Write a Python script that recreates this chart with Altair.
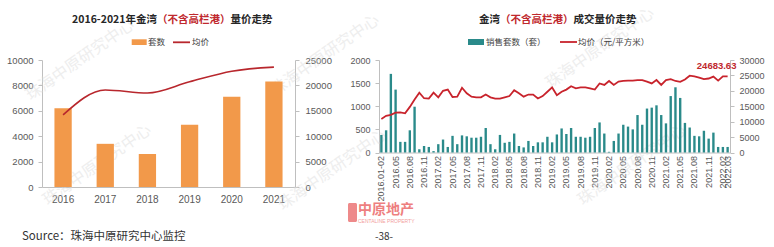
import altair as alt
import pandas as pd

# ---------------- Left panel: yearly ----------------
years = ["2016", "2017", "2018", "2019", "2020", "2021"]
units_year = [6200, 3400, 2600, 4900, 7100, 8300]
price_year = [14200, 19100, 18500, 20700, 22800, 23600]

# ---------------- Right panel: monthly ----------------
months = ["2016.01-02"] + [
    f"{y}.{m:02d}"
    for y in range(2016, 2023)
    for m in range(1, 13)
    if (2016, 3) <= (y, m) <= (2022, 3)
]
units_month = [
    380, 480, 1700, 1360, 230, 230, 480, 990, 70, 140,
    120, 30, 180, 280, 120, 360, 180, 370, 350, 320,
    320, 340, 530, 180, 70, 380, 210, 230, 410, 140,
    110, 250, 140, 220, 220, 340, 220, 390, 520, 400,
    530, 340, 340, 320, 340, 530, 650, 410, 15, 250,
    410, 600, 560, 500, 810, 600, 950, 970, 1020, 810,
    630, 1220, 1410, 1180, 640, 540, 360, 350, 470, 300,
    430, 120, 120, 120,
]
price_month = [
    10900, 11900, 12200, 12900, 13000, 12700, 14800, 17200, 19400, 17600,
    17500, 19400, 17900, 20000, 20400, 18000, 18100, 21000, 19200, 18100,
    17900, 17900, 18800, 17900, 17500, 17500, 17900, 18300, 20200, 19200,
    18100, 18800, 18800, 17500, 18300, 19700, 21100, 18600, 19700, 20400,
    21500, 20800, 21100, 21100, 20800, 20400, 22400, 21900, 23200, 21900,
    23000, 23200, 23300, 23300, 23500, 23500, 23000, 22400, 23500, 21900,
    23500, 23800, 23200, 22900, 23700, 24900, 24700, 24300, 23800, 24000,
    24600, 23300, 24700, 24683.63,
]
month_ticks = months[0::3] + [months[-1]]

left_df = pd.DataFrame({"year": years, "units": units_year, "price": price_year})
right_df = pd.DataFrame({
    "month": months, "units": units_month, "price": price_month,
    "idx": list(range(len(months))),
    "lab": [f"{p:.2f}" for p in price_month],
})

W, H = 688, 127
RH = 92.5
LBL = "Liberation Sans"
CJK = "Noto Sans CJK SC"
GRAY = "#BFBFBF"
LABC = "#595959"
RED = "#C0282D"
DARK = "#262626"

def ax(**kw):
    base = dict(title=None, grid=False, domainColor=GRAY, tickColor=GRAY,
                labelColor=LABC, labelFont=LBL)
    base.update(kw)
    return alt.Axis(**base)

lx = alt.Scale(type="band", domain=years, range=[0, 253], paddingInner=0.59, paddingOuter=0.295)
rx = alt.Scale(type="band", domain=months, range=[337, W], paddingInner=0.5, paddingOuter=0.25)

left_bars = alt.Chart(left_df).mark_bar(color="#F2994A").encode(
    x=alt.X("year:N", scale=lx, sort=None,
            axis=ax(orient="bottom", labelAngle=0, ticks=False, labelFontSize=10, labelPadding=7)),
    y=alt.Y("units:Q", scale=alt.Scale(domain=[0, 10000], range=[H, 0], nice=False),
            axis=ax(orient="left", values=list(range(0, 10001, 2000)), format="d",
                    tickSize=4, labelPadding=5, labelFontSize=9.5)),
)
left_line = alt.Chart(left_df).mark_line(color="#B8272D", strokeWidth=1.6, interpolate="monotone").encode(
    x=alt.X("year:N", scale=lx, sort=None, axis=None),
    y=alt.Y("price:Q", scale=alt.Scale(domain=[0, 25000], range=[H, 0], nice=False),
            axis=ax(orient="right", offset=-435, values=list(range(0, 25001, 5000)), format="d",
                    tickSize=4, labelPadding=6, labelFontSize=9.5)),
)

right_bars = alt.Chart(right_df).mark_bar(color="#2A8A8A").encode(
    x=alt.X("month:N", scale=rx, sort=None,
            axis=ax(orient="bottom", offset=-(H - RH), values=month_ticks, labelAngle=-90,
                    ticks=False, labelFontSize=9, labelPadding=3)),
    y=alt.Y("units:Q", scale=alt.Scale(domain=[0, 2000], range=[RH, 0], nice=False),
            axis=ax(orient="left", offset=-337, values=list(range(0, 2001, 500)), format="d",
                    tickSize=4, labelPadding=5, labelFontSize=9)),
)
right_line = alt.Chart(right_df).mark_line(color="#C8232C", strokeWidth=1.8).encode(
    x=alt.X("month:N", scale=rx, sort=None, axis=None),
    y=alt.Y("price:Q", scale=alt.Scale(domain=[0, 30000], range=[RH, 0], nice=False),
            axis=ax(orient="right", values=list(range(0, 30001, 5000)), format="d",
                    tickSize=4, labelPadding=5, labelFontSize=9)),
)
right_label = alt.Chart(right_df).transform_filter(alt.datum.idx == len(months) - 1).mark_text(
    font=LBL, fontSize=9.5, fontWeight="bold", color=RED, dx=-11, dy=-10.5
).encode(
    x=alt.X("month:N", scale=rx, sort=None, axis=None),
    y=alt.Y("price:Q", scale=alt.Scale(domain=[0, 30000], range=[RH, 0], nice=False), axis=None),
    text="lab:N",
)

def text_layer(rows, **kw):
    df = pd.DataFrame(rows, columns=["t", "x", "y", "c"])
    return alt.Chart(df).mark_text(baseline="middle", **kw).encode(
        x=alt.X("x:Q", scale=None, axis=None),
        y=alt.Y("y:Q", scale=None, axis=None),
        text="t:N",
        color=alt.Color("c:N", scale=None, legend=None),
    )

wm_text = "珠海中原研究中心"
WM = "#DADADA"
watermarks = text_layer(
    [(wm_text, 38, 0, WM), (wm_text, 55, 105, WM),
     (wm_text, 283, -5, WM), (wm_text, 290, 110, WM),
     (wm_text, 558, -12, WM), (wm_text, 590, 105, WM)],
    align="center", font=CJK, fontSize=16, angle=325, opacity=0.45,
)

titles_r = text_layer(
    [("2016-2021年金湾", 115, -40, DARK), ("金湾", 458, -40, DARK)],
    align="right", font=CJK, fontSize=10.5, fontWeight="bold",
)
titles_l = text_layer(
    [("（不含高栏港）", 115, -40, RED), ("量价走势", 188.5, -40, DARK),
     ("（不含高栏港）", 458, -40, RED), ("成交量价走势", 531.5, -40, DARK)],
    align="left", font=CJK, fontSize=10.5, fontWeight="bold",
)
legend_text = text_layer(
    [("套数", 106, -18, "#404040"), ("均价", 150, -18, "#404040"),
     ("销售套数（套）", 444, -18, "#404040"), ("均价（元/平方米）", 536, -18, "#404040")],
    align="left", font=CJK, fontSize=8.5,
)
legend_rects = alt.Chart(pd.DataFrame({
    "x": [89.7, 426], "x2": [104.7, 442], "y": [-20.7, -21], "y2": [-15, -15],
    "c": ["#F2994A", "#2A8A8A"],
})).mark_rect().encode(
    x=alt.X("x:Q", scale=None, axis=None), x2="x2:Q",
    y=alt.Y("y:Q", scale=None, axis=None), y2="y2:Q",
    color=alt.Color("c:N", scale=None, legend=None),
)
legend_lines = alt.Chart(pd.DataFrame({
    "x": [131, 518], "x2": [148, 535], "y": [-17.7, -18], "c": ["#B8272D", "#C8232C"],
})).mark_rule(strokeWidth=1.8).encode(
    x=alt.X("x:Q", scale=None, axis=None), x2="x2:Q",
    y=alt.Y("y:Q", scale=None, axis=None),
    color=alt.Color("c:N", scale=None, legend=None),
)
footer = text_layer(
    [("Source：珠海中原研究中心监控", -20, 177, "#333333")],
    align="left", font=CJK, fontSize=11.5,
)
page = text_layer([("-38-", 342, 177, "#333333")], align="center", font=CJK, fontSize=10)
logo_icon = alt.Chart(pd.DataFrame({"x": [306], "x2": [315], "y": [143], "y2": [162]})).mark_rect(
    color="#EE8A8A", cornerRadius=1.5
).encode(
    x=alt.X("x:Q", scale=None, axis=None), x2="x2:Q",
    y=alt.Y("y:Q", scale=None, axis=None), y2="y2:Q",
)
logo = text_layer([("中原地产", 316, 150, "#EE7F7F")], align="left", font=CJK, fontSize=14, fontWeight="bold")
logo_sub = text_layer([("CENTALINE PROPERTY", 316, 160.5, "#F2A0A0")], align="left", font=LBL, fontSize=5)

chart = alt.layer(
    watermarks,
    left_bars, left_line,
    right_bars, right_line, right_label,
    titles_r, titles_l, legend_rects, legend_lines, legend_text,
    footer, page, logo_icon, logo, logo_sub,
).resolve_scale(
    x="independent", y="independent"
).properties(
    width=W, height=H,
    autosize=alt.AutoSizeParams(type="none"),
    padding={"left": 42, "top": 60, "right": 44, "bottom": 60},
    background="white",
).configure_view(strokeWidth=0)

chart.save("out.html", embed_options={"renderer": "svg", "actions": False})
